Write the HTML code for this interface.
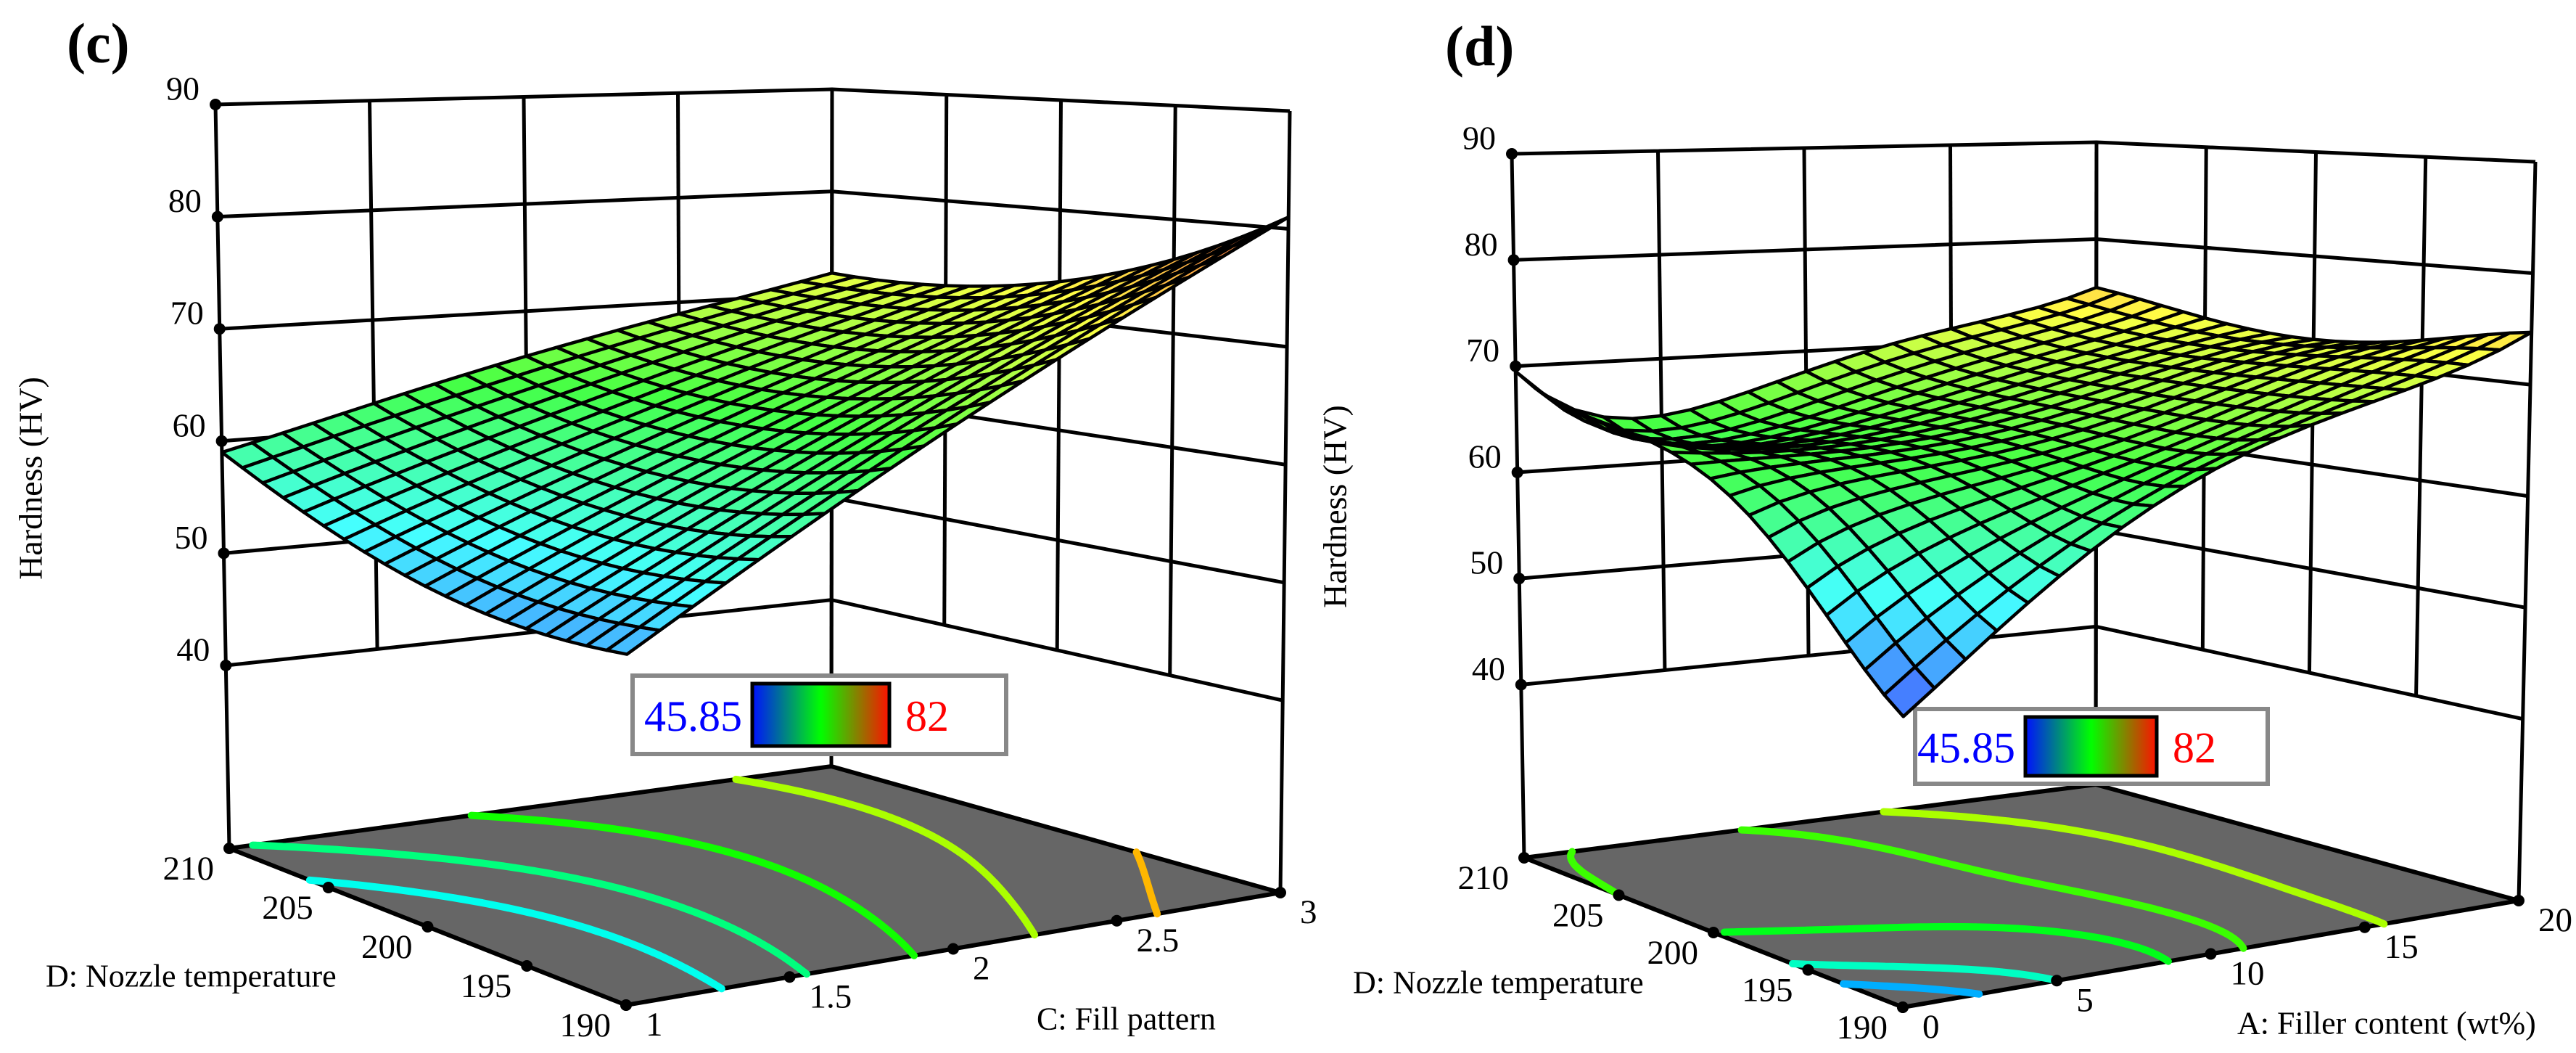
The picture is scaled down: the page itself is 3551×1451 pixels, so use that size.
<!DOCTYPE html>
<html><head><meta charset="utf-8">
<style>
html,body{margin:0;padding:0;background:#fff;}
svg{display:block;}
text{font-family:"Liberation Serif","Times New Roman",serif;}
</style></head>
<body>
<svg id="fig" xmlns="http://www.w3.org/2000/svg" width="3551" height="1451" viewBox="0 0 3551 1451" font-family="Liberation Serif, serif">
<rect x="0" y="0" width="3551" height="1451" fill="#fff"/>
<g id="panelC"></g>
<g id="panelD"></g>
</svg>
<script>
// ---- shared axis data ----
const zTicks = [40, 50, 60, 70, 80, 90];
const colorMin = 45.85;
const colorMax = 82;
// ---- panel (c) data : rows D = 210,205,200,195,190 ; cols C = 1,1.5,2,2.5,3 ----
const cFillTicks = [1, 1.5, 2, 2.5, 3];
const cTempTicks = [190, 195, 200, 205, 210];
const cZ210 = [59.0, 62.4, 65.8, 68.9, 72.0];
const cZ205 = [54.8, 59.3, 63.6, 67.9, 72.0];
const cZ200 = [52.0, 57.6, 63.0, 68.3, 73.5];
const cZ195 = [50.8, 57.4, 63.9, 70.3, 76.5];
const cZ190 = [51.0, 58.7, 66.3, 73.7, 81.0];
const cLevels = [55.5, 59.5, 64.5, 70, 75.5];
// ---- panel (d) data : rows D = 210..190 ; cols A = 0,5,10,15,20 ----
const dFillerTicks = [0, 5, 10, 15, 20];
const dTempTicks = [190, 195, 200, 205, 210];
const dZ210 = [69.5, 64.5, 68.0, 71.5, 75.0];
const dZ205 = [66.0, 63.5, 66.0, 69.5, 73.0];
const dZ200 = [63.0, 64.0, 65.5, 69.0, 72.0];
const dZ195 = [55.5, 61.0, 64.5, 69.0, 73.0];
const dZ190 = [47.0, 57.0, 64.8, 69.5, 74.7];
const dLevels = [52, 57, 63, 66, 70];

const NS = "http://www.w3.org/2000/svg";
const FONT = "Liberation Serif, Times New Roman, serif";
const ZF = 23.7, ZT = 90;

function el(parent, tag, attrs) {
  const e = document.createElementNS(NS, tag);
  for (const k in attrs) e.setAttribute(k, attrs[k]);
  if (tag === "text") e.setAttribute("font-family", FONT);
  parent.appendChild(e);
  return e;
}
function lerp(a, b, t) { return a + (b - a) * t; }
function bil(c, u, v) {
  const x = (1-u)*(1-v)*c.f[0] + u*(1-v)*c.r[0] + (1-u)*v*c.l[0] + u*v*c.b[0];
  const y = (1-u)*(1-v)*c.f[1] + u*(1-v)*c.r[1] + (1-u)*v*c.l[1] + u*v*c.b[1];
  return [x, y];
}
function project(P, u, v, z) {
  const f = bil(P.floor, u, v), t = bil(P.top, u, v);
  const s = (z - ZF) / (ZT - ZF);
  return [lerp(f[0], t[0], s), lerp(f[1], t[1], s)];
}
const nodes = [0, 0.25, 0.5, 0.75, 1];
function lw(t) {
  return nodes.map((ni, i) => {
    let w = 1;
    nodes.forEach((nj, j) => { if (j !== i) w *= (t - nj) / (ni - nj); });
    return w;
  });
}
function surfZ(rows, u, v) {
  const wu = lw(u), wv = lw(v);
  let z = 0;
  for (let r = 0; r < 5; r++) {
    const vr = 1 - r / 4, wi = wv[nodes.indexOf(vr)];
    for (let c = 0; c < 5; c++) z += wi * wu[c] * rows[r][c];
  }
  return z;
}
function cmap(val) {
  let t = (val - colorMin) / (colorMax - colorMin);
  t = Math.max(0, Math.min(1, t));
  const st = [[0,0,0,255],[0.25,0,255,255],[0.5,0,255,0],[0.75,255,255,0],[1,255,0,0]];
  for (let i = 0; i < 4; i++) {
    if (t <= st[i+1][0]) {
      const k = (t - st[i][0]) / (st[i+1][0] - st[i][0]);
      return [lerp(st[i][1], st[i+1][1], k), lerp(st[i][2], st[i+1][2], k), lerp(st[i][3], st[i+1][3], k)];
    }
  }
  return [255, 0, 0];
}
function rgb(c, w) { return "rgb(" + c.map(x => Math.round(x + (255 - x) * w)).join(",") + ")"; }
function pts(a) { return a.map(p => p[0].toFixed(1) + "," + p[1].toFixed(1)).join(" "); }

function drawPanel(g, P) {
  const uT = P.uTicks, vT = P.vTicks;
  const un = x => (x - uT[0]) / (uT[uT.length-1] - uT[0]);
  const vn = x => (x - vT[0]) / (vT[vT.length-1] - vT[0]);
  const walls = el(g, "g", {stroke: "#000", "stroke-width": 5, fill: "none"});
  
  
  zTicks.forEach(z => {
    const a = project(P, 0, 1, z), b = project(P, 1, 1, z), c = project(P, 1, 0, z);
    const ln = el(walls, "polyline", {points: pts([a, b, c])});
    
    
  });
  uT.forEach(t => {
    const u = un(t);
    const z0 = (u === 0 || u === 1) ? ZF : zTicks[0];
    const a = project(P, u, 1, z0), b = project(P, u, 1, ZT);
    const ln = el(walls, "line", {x1: a[0], y1: a[1], x2: b[0], y2: b[1]});
    
    
  });
  vT.forEach(t => {
    const v = vn(t);
    const z0 = (v === 0 || v === 1) ? ZF : zTicks[0];
    const a = project(P, 1, v, z0), b = project(P, 1, v, ZT);
    const ln = el(walls, "line", {x1: a[0], y1: a[1], x2: b[0], y2: b[1]});
    
    
  });
  zTicks.forEach(z => {
    const p = project(P, 0, 1, z);
    const d = el(g, "circle", {cx: p[0], cy: p[1], r: 8, fill: "#000"});
    
    
    const tx = el(g, "text", {x: p[0] - 22, y: p[1] - 22, "text-anchor": "end", "dominant-baseline": "central", "font-size": 46});
    tx.textContent = z;
    
    
  });
  const F = P.floor;
  const fl = el(g, "polygon", {points: pts([F.l, F.f, F.r, F.b]), fill: "#666666", stroke: "#000", "stroke-width": 6, "stroke-linejoin": "round"});
  
  
  const N = 70, grid = [];
  for (let i = 0; i <= N; i++) { grid.push([]); for (let j = 0; j <= N; j++) grid[i].push(surfZ(P.rows, i / N, j / N)); }
  P.levels.forEach(L => {
    const segs = [];
    for (let i = 0; i < N; i++) for (let j = 0; j < N; j++) {
      const c = [[i, j], [i+1, j], [i+1, j+1], [i, j+1]];
      const cr = [];
      for (let k = 0; k < 4; k++) {
        const A = c[k], B = c[(k+1) % 4];
        const za = grid[A[0]][A[1]], zb = grid[B[0]][B[1]];
        if ((za - L) * (zb - L) < 0) {
          const t = (L - za) / (zb - za);
          cr.push([lerp(A[0], B[0], t) / N, lerp(A[1], B[1], t) / N]);
        }
      }
      for (let k = 0; k + 1 < cr.length; k += 2) segs.push([bil(F, cr[k][0], cr[k][1]), bil(F, cr[k+1][0], cr[k+1][1])]);
    }
    const d = segs.map(s => "M" + s[0][0].toFixed(1) + " " + s[0][1].toFixed(1) + "L" + s[1][0].toFixed(1) + " " + s[1][1].toFixed(1)).join("");
    const path = el(g, "path", {d: d, stroke: rgb(cmap(L), 0), "stroke-width": 10, "stroke-linecap": "round", fill: "none"});
    
    
  });
  vT.forEach(t => {
    const p = bil(F, 0, vn(t));
    const d = el(g, "circle", {cx: p[0], cy: p[1], r: 8, fill: "#000"});
    
    
    const tx = el(g, "text", {x: p[0] - 21, y: p[1] + 28, "text-anchor": "end", "dominant-baseline": "central", "font-size": 47});
    tx.textContent = t;
    
    
  });
  uT.forEach(t => {
    const p = bil(F, un(t), 0);
    const d = el(g, "circle", {cx: p[0], cy: p[1], r: 8, fill: "#000"});
    
    
    const tx = el(g, "text", {x: p[0] + 27, y: p[1] + 27, "text-anchor": "start", "dominant-baseline": "central", "font-size": 47});
    tx.textContent = t;
    
    
  });
  const L = P.legend;
  const lg = el(g, "g", {});
  
  
  const box = el(lg, "rect", {x: L.x, y: L.y, width: L.w, height: L.h, fill: "#fff", stroke: "#888", "stroke-width": 6});
  
  
  const bar = el(lg, "rect", {x: L.bx, y: L.y + 11, width: L.bw, height: L.h - 22, fill: "url(#cbar)", stroke: "#000", "stroke-width": 5});
  
  
  const t1 = el(lg, "text", {x: L.bx - 14, y: L.y + L.h / 2 + 2, "text-anchor": "end", "dominant-baseline": "central", "font-size": 60, fill: "#0000ff"});
  t1.textContent = colorMin;
  
  
  const t2 = el(lg, "text", {x: L.bx + L.bw + 22, y: L.y + L.h / 2 + 2, "text-anchor": "start", "dominant-baseline": "central", "font-size": 60, fill: "#ff0000"});
  t2.textContent = colorMax;
  
  
  const M = 20, quads = [];
  const zz = [];
  for (let i = 0; i <= M; i++) { zz.push([]); for (let j = 0; j <= M; j++) zz[i].push(surfZ(P.rows, i / M, j / M)); }
  for (let i = 0; i < M; i++) for (let j = 0; j < M; j++) quads.push([i, j]);
  quads.sort((a, b) => (b[0] + b[1]) - (a[0] + a[1]));
  const sg = el(g, "g", {stroke: "#000", "stroke-width": 4.5, "stroke-linejoin": "round"});
  
  
  quads.forEach(q => {
    const [i, j] = q;
    const cs = [[i, j], [i+1, j], [i+1, j+1], [i, j+1]];
    const p = cs.map(c => project(P, c[0] / M, c[1] / M, zz[c[0]][c[1]]));
    const zm = cs.reduce((s, c) => s + zz[c[0]][c[1]], 0) / 4;
    const poly = el(sg, "polygon", {points: pts(p), fill: rgb(cmap(zm), 0.27)});
    
    
  });
  const pl = el(g, "text", {x: P.tag[0], y: P.tag[1], "font-size": 78, "font-weight": "bold"});
  pl.textContent = P.tagText;
  
  
  const yt = el(g, "text", {x: 0, y: 0, "font-size": 46, "text-anchor": "middle", "dominant-baseline": "central", transform: "translate(" + P.ytitle[0] + "," + P.ytitle[1] + ") rotate(-90)"});
  yt.textContent = "Hardness (HV)";
  
  
  const vt = el(g, "text", {x: P.vtitle[0], y: P.vtitle[1], "font-size": 44, "dominant-baseline": "central"});
  vt.textContent = "D: Nozzle temperature";
  
  
  const ut = el(g, "text", {x: P.utitle[0], y: P.utitle[1], "font-size": 44, "dominant-baseline": "central"});
  ut.textContent = P.utitleText;
  
  
}

const svg = document.getElementById("fig");
const defs = el(svg, "defs", {});
const grad = el(defs, "linearGradient", {id: "cbar", x1: 0, y1: 0, x2: 1, y2: 0});
[["0", "#0010ff"], ["0.5", "#00ff00"], ["1", "#ff1000"]].forEach(s => el(grad, "stop", {offset: s[0], "stop-color": s[1]}));

drawPanel(document.getElementById("panelC"), {
  floor: {l: [316, 1169], f: [863, 1385], r: [1765, 1230], b: [1146, 1056]},
  top:   {l: [297, 144],  f: [866, 211],  r: [1778, 153],  b: [1147, 123]},
  uTicks: cFillTicks, vTicks: cTempTicks,
  rows: [cZ210, cZ205, cZ200, cZ195, cZ190],
  levels: cLevels,
  legend: {x: 872, y: 931, w: 515, h: 108, bx: 1037, bw: 189},
  tag: [92, 86], tagText: "(c)",
  ytitle: [42, 659],
  vtitle: [63, 1345],
  utitle: [1429, 1404], utitleText: "C: Fill pattern"
});
drawPanel(document.getElementById("panelD"), {
  floor: {l: [2101, 1182], f: [2623, 1388], r: [3472, 1241], b: [2889, 1081]},
  top:   {l: [2084, 212],  f: [2625, 248],  r: [3495, 223],  b: [2890, 196]},
  uTicks: dFillerTicks, vTicks: dTempTicks,
  rows: [dZ210, dZ205, dZ200, dZ195, dZ190],
  levels: dLevels,
  legend: {x: 2640, y: 977, w: 486, h: 103, bx: 2792, bw: 181},
  tag: [1992, 90], tagText: "(d)",
  ytitle: [1840, 698],
  vtitle: [1865, 1354],
  utitle: [3084, 1410], utitleText: "A: Filler content (wt%)"
});
</script>
</body></html>
